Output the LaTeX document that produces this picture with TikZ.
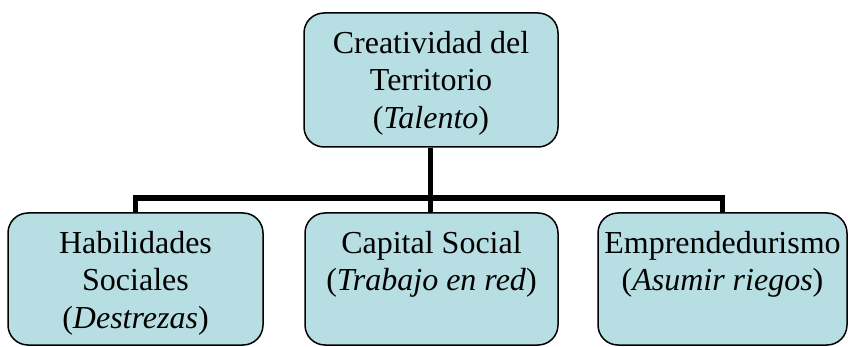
\documentclass[tikz,border=0pt]{standalone}
\usepackage{fontspec}
\setmainfont{Liberation Serif}
\definecolor{azulcaja}{RGB}{183,222,226}
% text set at the top of a box of fixed size
\newcommand{\textocaja}[3]{\parbox[c][#2][t]{#1}{\centering\vspace*{18pt}#3}}
\begin{document}
\begin{tikzpicture}[x=1pt, y=-1pt,
		caja/.style={draw=black, line width=1.5pt, fill=azulcaja, rounded corners=20pt, inner sep=0pt,
			font=\fontsize{32}{37.5}\selectfont},
		enlace/.style={line width=5.5pt}]
	\useasboundingbox (0,0) rectangle (848,347);
	\node[caja] (territorio) at (431,80) {\textocaja{254pt}{134pt}{Creatividad del\\Territorio\\(\textit{Talento})}};
	\node[caja] (habilidades) at (135.5,279) {\textocaja{255pt}{132pt}{Habilidades\\Sociales\\(\textit{Destrezas})}};
	\node[caja] (capital) at (431.5,279) {\textocaja{253pt}{132pt}{Capital Social\\(\textit{Trabajo en red})}};
	\node[caja] (emprende) at (722.5,279) {\textocaja{249pt}{132pt}{Emprendedurismo\\(\textit{Asumir riegos})}};
	\coordinate (barra) at (430.5,198);
	\draw[enlace] (territorio.south -| barra) -- (barra);
	\draw[enlace] (habilidades.north) |- (barra) -| (emprende.north);
	\draw[enlace] (barra) -- (barra |- capital.north);
\end{tikzpicture}
\end{document}
